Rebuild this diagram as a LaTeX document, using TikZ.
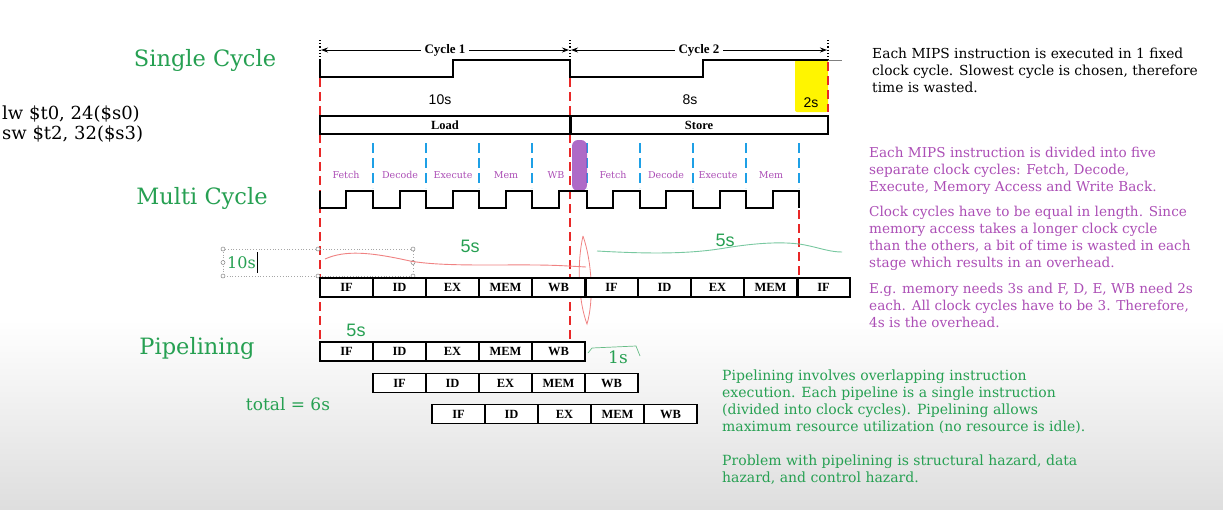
\documentclass[tikz,border=0pt]{standalone}
\usepackage{fontspec}
\setmainfont{DejaVu Serif}
\newfontfamily\boxfont{Liberation Serif}
\newfontfamily\numfont{Liberation Sans}
\usetikzlibrary{positioning,arrows.meta}
\definecolor{SlideGreen}{RGB}{38,160,82}
\definecolor{SlidePurple}{RGB}{172,78,182}
\definecolor{SlideRed}{RGB}{232,40,40}
\definecolor{SlideBlue}{RGB}{30,160,230}
\definecolor{SlideYellow}{RGB}{255,245,0}
\definecolor{InkPink}{RGB}{240,130,130}
\definecolor{InkTeal}{RGB}{120,200,160}
\definecolor{InkViolet}{RGB}{160,80,190}

\begin{document}
\begin{tikzpicture}[x=1pt,y=-1pt,
title/.style={font=\fontsize{22.5}{22.5}\selectfont,text=SlideGreen,inner sep=0pt},
note/.style={align=left,anchor=base west,inner sep=0pt,font=\fontsize{13.6}{17}\selectfont},
cell/.style={draw,line width=1.8pt,fill=white,minimum width=53pt,minimum height=19pt,
inner sep=0pt,outer sep=0pt,font=\boxfont\bfseries\fontsize{12.5}{12.5}\selectfont},
stage/.style={font=\fontsize{9.5}{9.5}\selectfont,text=SlidePurple,inner sep=0pt},
time/.style={font=\numfont\fontsize{18}{18}\selectfont,text=SlideGreen,inner sep=0pt},
reddash/.style={draw=SlideRed,line width=1.4pt,dash pattern=on 9pt off 5pt},
bluedash/.style={draw=SlideBlue,line width=1.5pt,dash pattern=on 10pt off 5pt},
clock/.style={line width=1.4pt},
cyclearrow/.style={{Stealth[length=7pt,width=5pt]}-{Stealth[length=7pt,width=5pt]},
line width=0.9pt,shorten <=1pt,shorten >=1pt}
]
\useasboundingbox (0,0) rectangle (1223,509);
\fill[white] (0,0) rectangle (1223,509);
\shade[top color=white,bottom color=black!13] (0,320) rectangle (1223,509);

\node[title] (single) at (205,60) {Single Cycle};
\node[title] (multi) at (202,198) {Multi Cycle};
\node[title] (pipe) at (197,348) {Pipelining};
\node[note,font=\fontsize{18}{20}\selectfont] (code) at (2,139) {lw \$t0, 24(\$s0)\\sw \$t2, 32(\$s3)};

\coordinate (t0) at (320,50);
\coordinate (t1) at (570,50);
\coordinate (t2) at (828,50);
\foreach \x in {320,570,828} \draw[dotted,line width=1.2pt] (\x,40) -- (\x,66);
\draw[reddash] (320,78) -- (320,340);
\draw[reddash] (570,78) -- (570,345);
\draw[reddash] (799,210) -- (799,276);
\fill[SlideYellow,rounded corners=2pt] (795,60) rectangle (828,112);
\draw[reddash] (828,62) -- (828,112);
\draw[clock] (320,60) -- (320,77) -- (453,77) -- (453,60) -- (570,60) -- (570,77)
  -- (703,77) -- (703,60) -- (828,60);
\draw[gray,line width=0.8pt] (828,60) -- (842,60);
\draw[cyclearrow] (t0) -- node[fill=white,inner xsep=4pt,font=\boxfont\bfseries\fontsize{13}{13}\selectfont] (cyc1) {Cycle 1} (t1);
\draw[cyclearrow] (t1) -- node[fill=white,inner xsep=4pt,font=\boxfont\bfseries\fontsize{13}{13}\selectfont] (cyc2) {Cycle 2} (t2);
\node[font=\numfont\fontsize{14}{14}\selectfont] (ten) at (440,100) {10s};
\node[font=\numfont\fontsize{14}{14}\selectfont] (eight) at (690,100) {8s};
\node[font=\numfont\fontsize{14}{14}\selectfont] (two) at (811,103) {2s};
\node[cell,minimum width=250pt,minimum height=18pt,line width=1.6pt] (load) at (445,125) {Load};
\node[cell,minimum width=258pt,minimum height=18pt,line width=1.6pt,right=0pt of load] (store) {Store};
\draw[line width=3pt] (load.north east) -- (load.south east);

\foreach \x in {373,426,479,532,587,640,693,746,799} \draw[bluedash] (\x,143) -- (\x,188);
\foreach \x/\lbl [count=\i] in {346/Fetch,400/Decode,453/Execute,506/Mem,556/WB,
  613/Fetch,666/Decode,718/Execute,771/Mem}
  \node[stage] (s\i) at (\x,175) {\lbl};
\fill[InkViolet,opacity=0.85,rounded corners=6pt] (572,140) rectangle (587,191);
\draw[clock] (320,191) -- (320,208) -- (346,208) -- (346,191) -- (373,191) -- (373,208)
  -- (400,208) -- (400,191) -- (426,191) -- (426,208) -- (453,208) -- (453,191)
  -- (479,191) -- (479,208) -- (506,208) -- (506,191) -- (532,191) -- (532,208)
  -- (559,208) -- (559,191) -- (587,191) -- (587,208) -- (613,208) -- (613,191)
  -- (640,191) -- (640,208) -- (666,208) -- (666,191) -- (693,191) -- (693,208)
  -- (720,208) -- (720,191) -- (746,191) -- (746,208) -- (773,208) -- (773,191)
  -- (799,191) -- (799,208);

\draw[gray!70,dotted,line width=0.8pt] (223,249) rectangle (413,276);
\foreach \p in {(223,249),(318,249),(413,249),(223,262.5),(413,262.5),(223,276),(318,276),(413,276)}
  \draw[gray,fill=white,line width=0.5pt] \p circle (2pt);
\node[time,anchor=west,font=\fontsize{16}{16}\selectfont] (tenM) at (227,262.5) {10s};
\draw[line width=0.8pt] (257,252) -- (257,273);
\draw[InkPink,line width=0.9pt] (325,259) .. controls (345,250) and (370,252) .. (410,261)
  .. controls (450,268) and (520,263) .. (568,266) -- (586,267);
\draw[InkPink,line width=0.8pt] (583,236) .. controls (592,262) and (594,300) .. (587,324)
  .. controls (578,300) and (577,262) .. (583,236);
\draw[InkTeal,line width=0.9pt] (597,251) .. controls (650,254) and (690,254) .. (725,248)
  .. controls (755,243) and (785,241) .. (805,245) .. controls (820,248) and (830,252) .. (842,252);
\node[time] (fiveA) at (470,246) {5s};
\node[time] (fiveB) at (725,240) {5s};
\node[time] (fiveC) at (356,330) {5s};

\foreach \lbl [count=\i] in {IF,ID,EX,MEM,WB,IF,ID,EX,MEM,IF}
  \node[cell] (m\i) at (293.5+53*\i,287.5) {\lbl};
\draw[line width=3pt] (m5.north east) -- (m5.south east);
\draw[line width=3pt] (m9.north east) -- (m9.south east);

\foreach \lbl [count=\i] in {IF,ID,EX,MEM,WB} {
  \node[cell] (pa\i) at (293.5+53*\i,351.5) {\lbl};
  \node[cell] (pb\i) at (346.5+53*\i,383) {\lbl};
  \node[cell] (pc\i) at (405.5+53*\i,414) {\lbl};
}
\draw[SlideGreen!70,line width=0.7pt] (588,353) -- (592,348) -- (636,346) -- (640,356);
\node[time,font=\fontsize{17}{17}\selectfont] (one) at (618,357) {1s};
\node[font=\fontsize{17}{17}\selectfont,text=SlideGreen] (total) at (288,404) {total = 6s};

\node[note,font=\fontsize{13.8}{17}\selectfont] (scnote) at (872,92.5) {Each MIPS instruction is executed in 1 fixed\\clock cycle. Slowest cycle is chosen, therefore\\time is wasted.};
\node[note,text=SlidePurple] (mcnoteA) at (869,191.5) {Each MIPS instruction is divided into five\\separate clock cycles: Fetch, Decode,\\Execute, Memory Access and Write Back.};
\node[note,text=SlidePurple] (mcnoteB) at (869,267.5) {Clock cycles have to be equal in length. Since\\memory access takes a longer clock cycle\\than the others, a bit of time is wasted in each\\stage which results in an overhead.};
\node[note,text=SlidePurple] (mcnoteC) at (869,327.5) {E.g. memory needs 3s and F, D, E, WB need 2s\\each. All clock cycles have to be 3. Therefore,\\4s is the overhead.};
\node[note,text=SlideGreen,font=\fontsize{14}{17}\selectfont] (plnoteA) at (722,431.5) {Pipelining involves overlapping instruction\\execution. Each pipeline is a single instruction\\(divided into clock cycles). Pipelining allows\\maximum resource utilization (no resource is idle).};
\node[note,text=SlideGreen,font=\fontsize{14}{17}\selectfont] (plnoteB) at (722,482.5) {Problem with pipelining is structural hazard, data\\hazard, and control hazard.};
\end{tikzpicture}
\end{document}
